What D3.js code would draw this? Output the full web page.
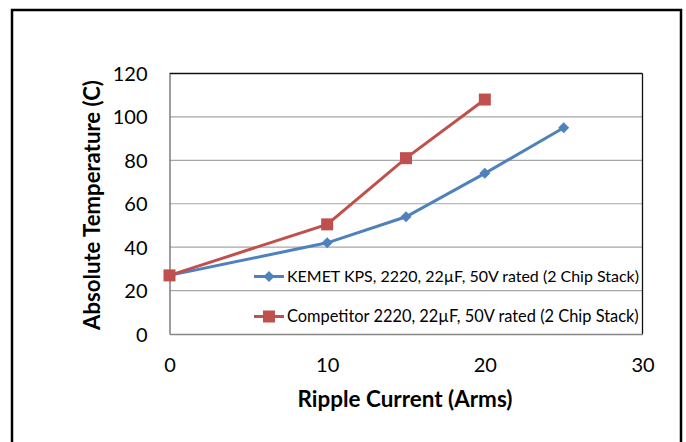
<!DOCTYPE html>
<html>
<head>
<meta charset="utf-8">
<script src="https://cdn.jsdelivr.net/npm/d3@7"></script>
<style>
  html, body { margin: 0; padding: 0; background: #fff; }
  svg { display: block; }
  text { font-family: Lato, "Open Sans", sans-serif; fill: #000; }
</style>
</head>
<body>
<div id="chart"></div>
<script>
// ---- data ----
const xTicks = [0, 10, 20, 30];
const yTicks = [0, 20, 40, 60, 80, 100, 120];
const kemetX = [0, 10, 15, 20, 25];
const kemetY = [27, 42, 54, 74, 95];
const compX = [0, 10, 15, 20];
const compY = [27, 50.5, 81, 108];
const seriesNames = ["KEMET KPS, 2220, 22µF, 50V rated (2 Chip Stack)", "Competitor 2220, 22µF, 50V rated (2 Chip Stack)"];
const xTitle = "Ripple Current (Arms)";
const yTitle = "Absolute Temperature (C)";

// ---- layout ----
const W = 686, H = 442;
const plot = { left: 169.5, right: 642.5, top: 73.5, bottom: 334 };
const blue = "#4F81BD", red = "#C0504D";

const svg = d3.select("#chart").append("svg").attr("width", W).attr("height", H);
svg.append("rect").attr("width", W).attr("height", H).attr("fill", "#fff");

// outer frame
svg.append("rect").attr("x", 12).attr("y", 10).attr("width", 669).attr("height", 450)
  .attr("fill", "none").attr("stroke", "#000").attr("stroke-width", 2.5);

const x = d3.scaleLinear().domain([0, 30]).range([plot.left, plot.right]);
const y = d3.scaleLinear().domain([0, 120]).range([plot.bottom, plot.top]);

// gridlines
svg.append("g").selectAll("line").data(yTicks.filter(d => d > 0 && d < 120)).join("line")
  .attr("x1", plot.left).attr("x2", plot.right)
  .attr("y1", d => y(d)).attr("y2", d => y(d))
  .attr("stroke", "#a6a6a6").attr("stroke-width", 1.2);

// plot border: top & right dark, left & bottom gray axes
svg.append("line").attr("x1", plot.left).attr("x2", plot.right).attr("y1", plot.top).attr("y2", plot.top)
  .attr("stroke", "#111").attr("stroke-width", 1.3);
svg.append("line").attr("x1", plot.right).attr("x2", plot.right).attr("y1", plot.top).attr("y2", plot.bottom)
  .attr("stroke", "#111").attr("stroke-width", 1.3);

const yAxis = d3.axisLeft(y).tickValues(yTicks).tickSize(0).tickPadding(22);
const gy = svg.append("g").attr("transform", `translate(${plot.left},0)`).call(yAxis);
gy.select(".domain").attr("stroke", "#868686").attr("stroke-width", 1.6);
gy.selectAll("text").attr("font-size", 20).attr("dy", "0.35em");

const xAxis = d3.axisBottom(x).tickValues(xTicks).tickSize(0).tickPadding(24);
const gx = svg.append("g").attr("transform", `translate(0,${plot.bottom})`).call(xAxis);
gx.select(".domain").attr("stroke", "#868686").attr("stroke-width", 1.6);
gx.selectAll("text").attr("font-size", 20).attr("dy", "0.35em").attr("y", 31);

// axis titles
svg.append("text").attr("x", 405).attr("y", 406.5).attr("text-anchor", "middle")
  .attr("font-weight", "bold").attr("font-size", 19).text(xTitle).attr("class", "xt");
svg.append("text").attr("transform", "translate(100,205) rotate(-90)").attr("text-anchor", "middle")
  .attr("font-weight", "bold").attr("font-size", 19).text(yTitle).attr("class", "yt");

// series
const line = d3.line().x(d => x(d[0])).y(d => y(d[1]));
const kemet = kemetX.map((v, i) => [v, kemetY[i]]);
const comp = compX.map((v, i) => [v, compY[i]]);

svg.append("path").datum(kemet).attr("d", line).attr("fill", "none").attr("stroke", blue).attr("stroke-width", 3);
svg.append("path").datum(comp).attr("d", line).attr("fill", "none").attr("stroke", red).attr("stroke-width", 3);

const diamond = s => `M0,${-s}L${s},0L0,${s}L${-s},0Z`;
svg.append("g").selectAll("path").data(kemet).join("path")
  .attr("transform", d => `translate(${x(d[0])},${y(d[1])})`)
  .attr("d", diamond(5.5)).attr("fill", blue);
svg.append("g").selectAll("rect").data(comp).join("rect")
  .attr("x", d => x(d[0]) - 6).attr("y", d => y(d[1]) - 6)
  .attr("width", 12).attr("height", 12).attr("fill", red);

// legend
const legY = [276.5, 316.5];
const legColors = [blue, red];
seriesNames.forEach((name, i) => {
  const g = svg.append("g");
  g.append("line").attr("x1", 254).attr("x2", 284).attr("y1", legY[i]).attr("y2", legY[i])
    .attr("stroke", legColors[i]).attr("stroke-width", 3);
  if (i === 0) g.append("path").attr("transform", `translate(269,${legY[i]})`).attr("d", diamond(5.5)).attr("fill", blue);
  else g.append("rect").attr("x", 263).attr("y", legY[i] - 6).attr("width", 12).attr("height", 12).attr("fill", red);
  g.append("text").attr("x", 287).attr("y", legY[i]).attr("dy", "0.35em").attr("font-size", 16)
    .attr("class", "leg").text(name);
});

// fit text widths to reference measurements
function fitWidth(sel, target) {
  sel.each(function () {
    const t = d3.select(this);
    const fs = parseFloat(t.attr("font-size"));
    const w = this.getComputedTextLength();
    if (w > 0) t.attr("font-size", (fs * target / w).toFixed(2));
  });
}
fitWidth(svg.selectAll(".leg"), 352);
fitWidth(svg.selectAll(".xt"), 215);
fitWidth(svg.selectAll(".yt"), 250);
</script>
</body>
</html>
